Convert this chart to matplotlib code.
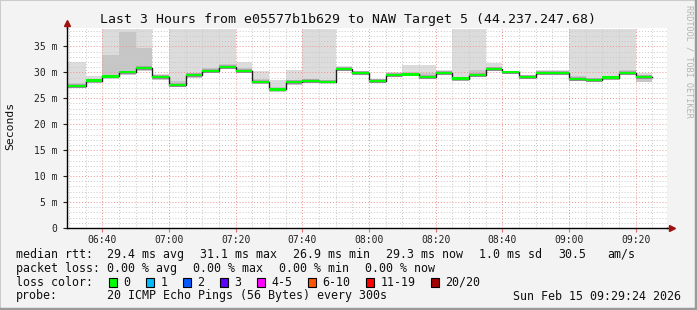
"""
SmokePing style latency graph: median rtt steps with gray smoke bands.
"""

from datetime import datetime
import pandas as pd
import matplotlib
matplotlib.use("Agg")
import matplotlib.pyplot as plt
import matplotlib.dates as mdates
from matplotlib.patches import Rectangle

# 5 minute steps, 06:30 .. 09:20 (step start times)
step_start = pd.date_range("2026-02-15 06:30", periods=35, freq="5min")
window = (datetime(2026, 2, 15, 6, 29, 24), datetime(2026, 2, 15, 9, 29, 24))

# values in ms
median = [27.4, 28.4, 29.2, 30.0, 30.8, 29.1, 27.5, 29.5, 30.3, 31.0,
          30.3, 28.2, 26.7, 28.1, 28.3, 28.2, 30.6, 29.9, 28.3, 29.5,
          29.6, 29.1, 29.9, 28.8, 29.5, 30.6, 30.0, 29.1, 29.9, 29.9,
          28.7, 28.5, 29.0, 29.9, 29.1]
ping_max = [31.9, 29.2, 38.3, 38.3, 38.3, 29.7, 38.3, 38.3, 38.3, 38.3,
            31.9, 30.3, 28.5, 30.4, 38.3, 38.3, 31.3, 30.1, 28.6, 30.1,
            31.5, 31.4, 30.4, 38.3, 38.3, 31.8, 30.3, 29.5, 30.4, 30.4,
            38.3, 38.3, 38.3, 38.3, 29.8]
ping_hi = [28.0, 28.8, 33.3, 37.7, 34.7, 29.4, 28.3, 29.9, 30.8, 31.6,
           30.8, 28.8, 27.1, 28.6, 28.7, 28.6, 30.9, 30.0, 28.4, 29.8,
           30.0, 29.8, 30.1, 29.1, 30.5, 31.0, 30.1, 29.3, 30.1, 30.1,
           29.2, 28.9, 29.2, 30.5, 29.4]
ping_min = [26.9, 28.0, 28.8, 29.5, 30.3, 28.6, 27.2, 29.0, 29.9, 30.6,
            29.8, 27.8, 26.3, 27.6, 27.9, 27.9, 30.2, 29.5, 27.9, 29.1,
            29.2, 28.7, 29.6, 28.3, 29.1, 30.2, 29.7, 28.8, 29.5, 29.6,
            28.3, 28.2, 28.6, 29.5, 28.1]

y_ticks = [0, 5, 10, 15, 20, 25, 30, 35]
y_tick_labels = ["0", "5 m", "10 m", "15 m", "20 m", "25 m", "30 m", "35 m"]

title = "Last 3 Hours from e05577b1b629 to NAW Target 5 (44.237.247.68)"
loss_labels = ["0", "1", "2", "3", "4-5", "6-10", "11-19", "20/20"]
loss_colors = ["#00ff00", "#00bbff", "#0059ff", "#5e00ff",
               "#ff00ff", "#ff5500", "#ff0000", "#a10000"]

W, H = 697, 310
MONO = "DejaVu Sans Mono"
plt.rcParams["font.family"] = MONO


def fx(px):
    return px / W


def fy(py):
    return 1 - py / H


fig = plt.figure(figsize=(W / 100, H / 100), dpi=100, facecolor="#f3f3f3")
ax = fig.add_axes([fx(67), fy(228), fx(667) - fx(67), fy(27.7) - fy(228)])
ax.set_facecolor("white")

# step edges: first step starts at the window edge, last one ends 5 min later
edges = list(step_start.to_pydatetime())
edges[0] = window[0]
edges.append(step_start[-1] + pd.Timedelta(minutes=5))
ext = lambda v: list(v) + [v[-1]]

ax.fill_between(edges, ext(ping_min), ext(ping_max), step="post",
                color="#dcdcdc", lw=0, zorder=1)
ax.fill_between(edges, ext(ping_min), ext(ping_hi), step="post",
                color="#c6c6c6", lw=0, zorder=2)
med_lo = [m - 0.35 for m in median]
med_hi = [m + 0.35 for m in median]
ax.fill_between(edges, ext(med_lo), ext(med_hi), step="post",
                color="#a8a8a8", lw=0, zorder=3)

# grid on top of the smoke, like rrdtool
ax.set_axisbelow(False)
ax.xaxis.set_major_locator(mdates.MinuteLocator(byminute=[0, 20, 40]))
ax.xaxis.set_minor_locator(mdates.MinuteLocator(byminute=range(0, 60, 5)))
ax.xaxis.set_major_formatter(mdates.DateFormatter("%H:%M"))
ax.set_yticks(y_ticks)
ax.set_yticklabels(y_tick_labels)
ax.set_yticks(range(0, 39), minor=True)
ax.grid(which="minor", color="#c8c8c8", lw=0.7, ls=(0, (1, 2)), zorder=4)
ax.grid(which="major", color="#f09090", lw=0.7, ls=(0, (1, 2)), zorder=5)

ax.step(edges, ext(median), where="post", color="#202020", lw=1.0, zorder=6)
ax.fill_between(edges, ext([m - 0.22 for m in median]),
                ext([m + 0.22 for m in median]), step="post",
                color=loss_colors[0], lw=0, zorder=7)

ax.set_xlim(*window)
ax.set_ylim(0, 38.6)

for s in ["top", "right"]:
    ax.spines[s].set_visible(False)
for s in ["left", "bottom"]:
    ax.spines[s].set_color("black")
    ax.spines[s].set_linewidth(1.0)
    ax.spines[s].set_zorder(8)

ax.tick_params(axis="both", which="major", labelsize=7, length=3, width=0.8,
               colors="#202020")
ax.tick_params(axis="x", which="major", color="#e07070", pad=2)
ax.tick_params(axis="both", which="minor", length=0)
ax.tick_params(axis="y", which="major", pad=4)

# axis arrows
ax.plot([0, 0], [1, 1.025], color="black", lw=1, transform=ax.transAxes,
        clip_on=False, zorder=8)
ax.plot([0], [1.025], marker="^", ms=5, color="#a01010",
        transform=ax.transAxes, clip_on=False, zorder=9)
ax.plot([1, 1.008], [0, 0], color="black", lw=1, transform=ax.transAxes,
        clip_on=False, zorder=8)
ax.plot([1.008], [0], marker=">", ms=5, color="#a01010",
        transform=ax.transAxes, clip_on=False, zorder=9)

fig.text(fx(347.5), fy(19), title, ha="center", va="center", fontsize=9.55,
         color="#101010")
fig.text(fx(10), fy(126), "Seconds", rotation=90, ha="center", va="center",
         fontsize=8.2, color="#101010")
fig.text(fx(689), fy(5), "RRDTOOL / TOBI OETIKER", rotation=270,
         ha="center", va="top", fontsize=6.1, color="#b4b4b4")

# legend block
LF = 8.4
rows = {
    254.3: [(16, "median rtt:"), (107, "29.4 ms avg"), (200, "31.1 ms max"),
            (293, "26.9 ms min"), (386, "29.3 ms now"), (479, "1.0 ms sd"),
            (558, "30.5"), (607, "am/s")],
    268.3: [(16, "packet loss:"), (107, "0.00 % avg"), (193.3, "0.00 % max"),
            (279.3, "0.00 % min"), (365, "0.00 % now")],
    296.0: [(16, "probe:"), (107, "20 ICMP Echo Pings (56 Bytes) every 300s"),
            (513.3, "Sun Feb 15 09:29:24 2026")],
}
for yrow, items in rows.items():
    for xpos, txt in items:
        fig.text(fx(xpos), fy(yrow), txt, ha="left", va="center",
                 fontsize=LF, color="#101010")

fig.text(fx(16), fy(282.3), "loss color:", ha="left", va="center",
         fontsize=LF, color="#101010")
box_x = [109, 146, 183, 219.7, 257, 307.7, 365.7, 430.7]
for bx, lab, col in zip(box_x, loss_labels, loss_colors):
    fig.patches.append(Rectangle((fx(bx), fy(287)), 8 / W, 9 / H,
                                 transform=fig.transFigure, facecolor=col,
                                 edgecolor="black", lw=0.8))
    fig.text(fx(bx + 14.5), fy(282.3), lab, ha="left", va="center",
             fontsize=LF, color="#101010")

# frame
fig.patches.append(Rectangle((0, 0), 1, 1, transform=fig.transFigure,
                             fill=False, edgecolor="#cccccc", lw=1.5))
fig.lines.append(plt.Line2D([fx(695.5), fx(695.5)], [0, 1],
                            transform=fig.transFigure, color="#9a9a9a", lw=2.5))
fig.lines.append(plt.Line2D([0, 1], [fy(308.5), fy(308.5)],
                            transform=fig.transFigure, color="#9a9a9a", lw=2.5))

fig.savefig("out.png", dpi=100, facecolor=fig.get_facecolor())
